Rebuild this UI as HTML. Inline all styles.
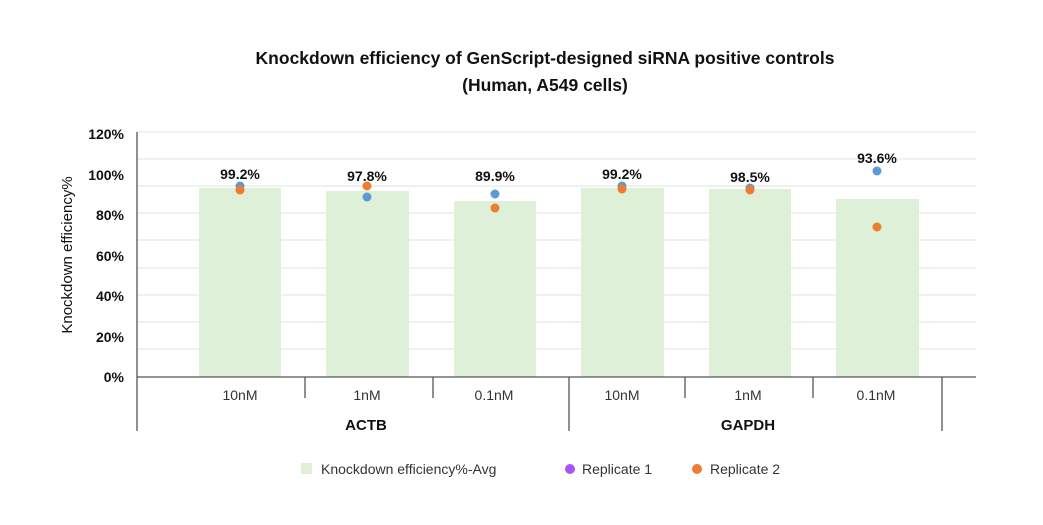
<!DOCTYPE html>
<html><head><meta charset="utf-8"><style>
body{margin:0;background:#fff;}
text{font-family:"Liberation Sans",sans-serif;}
</style></head><body>
<svg width="1043" height="520" xmlns="http://www.w3.org/2000/svg">
<rect width="1043" height="520" fill="#fff"/>
<text x="545" y="64" text-anchor="middle" font-size="17.5" font-weight="bold" fill="#111">Knockdown efficiency of GenScript-designed siRNA positive controls</text>
<text x="545" y="91" text-anchor="middle" font-size="17.5" font-weight="bold" fill="#111">(Human, A549 cells)</text>
<g stroke="#e6e6e6" stroke-width="1.2">
<line x1="137" x2="976" y1="132" y2="132"/><line x1="137" x2="976" y1="159" y2="159"/>
<line x1="137" x2="976" y1="186" y2="186"/><line x1="137" x2="976" y1="213" y2="213"/>
<line x1="137" x2="976" y1="240" y2="240"/><line x1="137" x2="976" y1="268" y2="268"/>
<line x1="137" x2="976" y1="295" y2="295"/><line x1="137" x2="976" y1="322" y2="322"/>
<line x1="137" x2="976" y1="349" y2="349"/>
</g>
<g fill="#dff0d8">
<rect x="199" y="188" width="82" height="189"/>
<rect x="326" y="191" width="83" height="186"/>
<rect x="454" y="201" width="82" height="176"/>
<rect x="581" y="188" width="83" height="189"/>
<rect x="709" y="189" width="82" height="188"/>
<rect x="836" y="199" width="83" height="178"/>
</g>
<g stroke="#555" stroke-width="1.3">
<line x1="137" x2="137" y1="132" y2="431"/>
<line x1="137" x2="976" y1="377" y2="377"/>
<line x1="305" x2="305" y1="377" y2="398"/><line x1="433" x2="433" y1="377" y2="398"/>
<line x1="569" x2="569" y1="377" y2="431"/>
<line x1="685" x2="685" y1="377" y2="398"/><line x1="813" x2="813" y1="377" y2="398"/>
<line x1="942" x2="942" y1="377" y2="431"/>
</g>
<g font-size="14" font-weight="bold" fill="#111" text-anchor="end">
<text x="124" y="139">120%</text><text x="124" y="180">100%</text><text x="124" y="220">80%</text>
<text x="124" y="261">60%</text><text x="124" y="301">40%</text><text x="124" y="342">20%</text><text x="124" y="382">0%</text>
</g>
<text transform="translate(72,255) rotate(-90)" text-anchor="middle" font-size="15" fill="#111">Knockdown efficiency%</text>
<g font-size="14" fill="#333" text-anchor="middle">
<text x="240" y="400">10nM</text><text x="367" y="400">1nM</text><text x="494" y="400">0.1nM</text>
<text x="622" y="400">10nM</text><text x="748" y="400">1nM</text><text x="876" y="400">0.1nM</text>
</g>
<g font-size="15" font-weight="bold" fill="#111" text-anchor="middle">
<text x="366" y="430">ACTB</text><text x="748" y="430">GAPDH</text>
</g>
<g font-size="14" font-weight="bold" fill="#111" text-anchor="middle">
<text x="240" y="179">99.2%</text><text x="367" y="181">97.8%</text><text x="495" y="181">89.9%</text>
<text x="622" y="179">99.2%</text><text x="750" y="182">98.5%</text><text x="877" y="163">93.6%</text>
</g>
<g fill="#5b9bd5">
<circle cx="240" cy="186" r="4.5"/><circle cx="367" cy="197" r="4.5"/><circle cx="495" cy="194" r="4.5"/>
<circle cx="622" cy="186" r="4.5"/><circle cx="750" cy="188" r="4.5"/><circle cx="877" cy="171" r="4.5"/>
</g>
<g fill="#ed7d31">
<circle cx="240" cy="190" r="4.5"/><circle cx="367" cy="186" r="4.5"/><circle cx="495" cy="208" r="4.5"/>
<circle cx="622" cy="189" r="4.5"/><circle cx="750" cy="190" r="4.5"/><circle cx="877" cy="227" r="4.5"/>
</g>
<rect x="301" y="463" width="11" height="11" fill="#dff0d8"/>
<text x="321" y="474" font-size="14" fill="#333">Knockdown efficiency%-Avg</text>
<circle cx="570" cy="469" r="5" fill="#a855f7"/>
<text x="582" y="474" font-size="14" fill="#333">Replicate 1</text>
<circle cx="697" cy="469" r="5" fill="#ed7d31"/>
<text x="710" y="474" font-size="14" fill="#333">Replicate 2</text>
</svg>
</body></html>
